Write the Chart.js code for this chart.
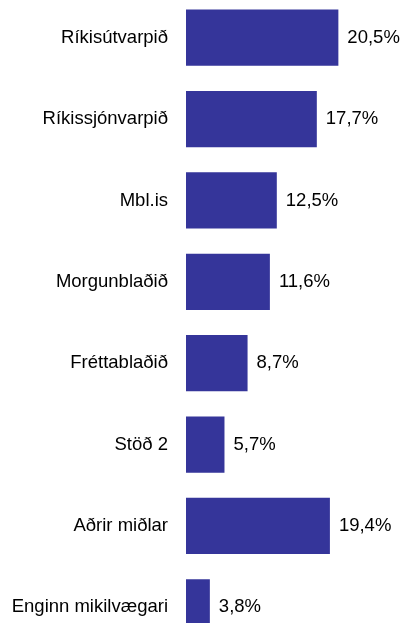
<!DOCTYPE html>
<html>
<head>
<meta charset="utf-8">
<script src="https://cdn.jsdelivr.net/npm/chart.js@4"></script>
<style>
  html, body { margin: 0; padding: 0; background: #fff; overflow: hidden; }
  #chart { position: absolute; left: 0; top: -3px; }
</style>
</head>
<body>
<canvas id="chart" width="400" height="651"></canvas>
<script>
// == Data ==
const categories = ["Ríkisútvarpið", "Ríkissjónvarpið", "Mbl.is", "Morgunblaðið", "Fréttablaðið", "Stöð 2", "Aðrir miðlar", "Enginn mikilvægari"];
const shares = [20.5, 17.7, 12.5, 11.6, 8.7, 5.7, 19.4, 3.8];

const barColor = '#35359a';
const font = { family: '"Liberation Sans", Arial, sans-serif', size: 18.5 };

function formatPct(v) {
    return v.toFixed(1).replace('.', ',') + '%';
}

// draws the value right of each bar
const valueLabels = {
    id: 'valueLabels',
    afterDatasetsDraw(chart) {
        const ctx = chart.ctx;
        const meta = chart.getDatasetMeta(0);
        ctx.save();
        ctx.font = `${font.size}px ${font.family}`;
        ctx.fillStyle = '#000';
        ctx.textAlign = 'left';
        ctx.textBaseline = 'middle';
        meta.data.forEach((bar, i) => {
            ctx.fillText(formatPct(shares[i]), bar.x + 9, bar.y);
        });
        ctx.restore();
    }
};

new Chart(document.getElementById('chart'), {
    type: 'bar',
    data: {
        labels: categories,
        datasets: [{
            data: shares,
            backgroundColor: barColor,
            borderWidth: 0,
            barPercentage: 0.69,
            categoryPercentage: 1
        }]
    },
    options: {
        indexAxis: 'y',
        responsive: false,
        animation: false,
        layout: { padding: { top: 0, bottom: 0, left: 0, right: 27 } },
        plugins: {
            legend: { display: false },
            tooltip: { enabled: false }
        },
        scales: {
            x: { display: false, min: 0.7, max: 25 },
            y: {
                grid: { display: false, drawTicks: false },
                border: { display: false },
                ticks: { color: '#000', font: font, padding: 18 },
                afterFit(scale) {
                    // fixed label column, no extra room above/below for labels
                    scale.width = 186;
                    scale.paddingTop = 0;
                    scale.paddingBottom = 0;
                }
            }
        }
    },
    plugins: [valueLabels]
});
</script>
</body>
</html>
